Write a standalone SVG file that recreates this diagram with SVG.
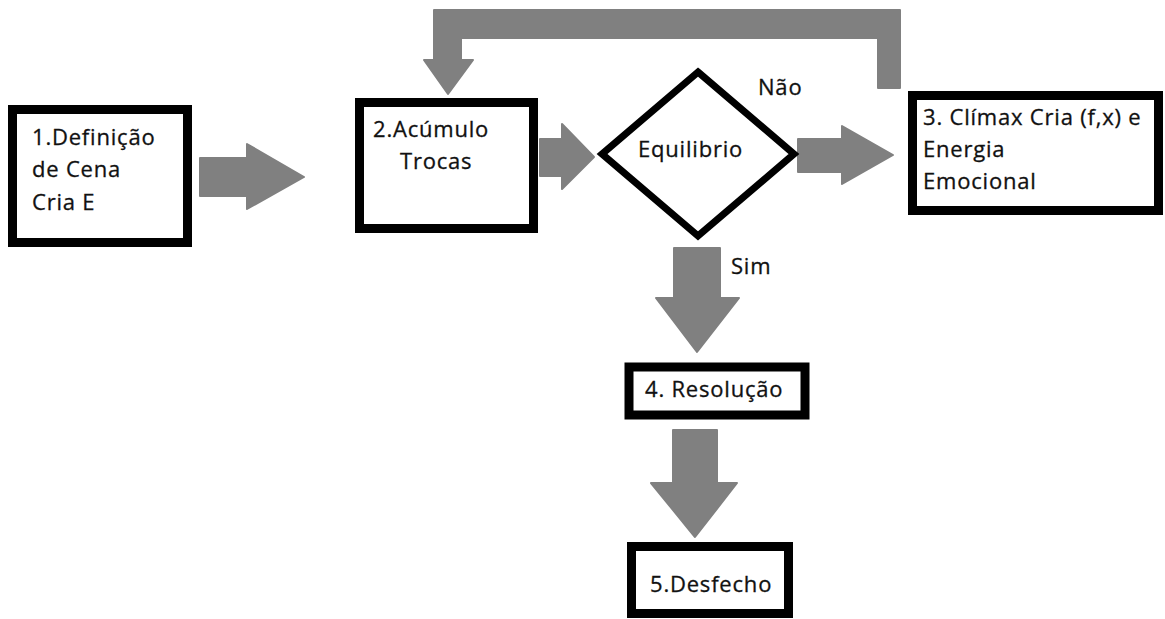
<svg xmlns="http://www.w3.org/2000/svg" width="1165" height="619" viewBox="0 0 1165 619">
<style>
.box{fill:#fff;stroke:#000;stroke-width:9}
.dia{fill:#fff;stroke:#000;stroke-width:7;stroke-linejoin:miter}
.arr{fill:#808080;stroke:#808080;stroke-width:2;stroke-linejoin:round}
text{font-family:"Open Sans","Noto Sans","DejaVu Sans",sans-serif;font-size:22px;letter-spacing:0.8px;fill:#111;stroke:#111;stroke-width:0.3}
</style>
<rect width="1165" height="619" fill="#fff"/>
<g id="connectors">
<polygon class="arr" points="200,158 247,158 247,144 304,177 247,209 247,196 200,196"/>
<polygon class="arr" points="540,139 562,139 562,124 594,157 562,189 562,176 540,176"/>
<polygon class="arr" points="798,139 842,139 842,126 893,155 842,184 842,172 798,172"/>
<polygon class="arr" points="900,88 900,10 434,10 434,60 424,60 448,94 473,60 461,60 461,38 878,38 878,88"/>
<polygon class="arr" points="674,248 720,248 720,298 739,298 697,352 656,298 674,298"/>
<polygon class="arr" points="673,430 717,430 717,483 737,483 695,537 651,483 673,483"/>
</g>
<g id="node1">
<rect class="box" x="12.5" y="109.5" width="175" height="133"/>
<text x="32" y="145">1.Definição</text>
<text x="32" y="177">de Cena</text>
<text x="32" y="210">Cria E</text>
</g>
<g id="node2">
<rect class="box" x="359.5" y="102.5" width="174" height="126"/>
<text x="373" y="137">2.Acúmulo</text>
<text x="400" y="169">Trocas</text>
</g>
<g id="decision">
<polygon class="dia" points="698,72 794,154 698,236 602,154"/>
<text x="638" y="157">Equilibrio</text>
</g>
<g id="labels">
<text x="758" y="95">Não</text>
<text x="731" y="274">Sim</text>
</g>
<g id="node3">
<rect class="box" x="912.5" y="95.5" width="246" height="115"/>
<text x="923" y="125">3. Clímax Cria (f,x) e</text>
<text x="923" y="157">Energia</text>
<text x="923" y="189">Emocional</text>
</g>
<g id="node4">
<rect class="box" x="629" y="367" width="176" height="48"/>
<text x="645" y="397">4. Resolução</text>
</g>
<g id="node5">
<rect class="box" x="631.5" y="546.5" width="157" height="67"/>
<text x="650" y="592">5.Desfecho</text>
</g>
</svg>
